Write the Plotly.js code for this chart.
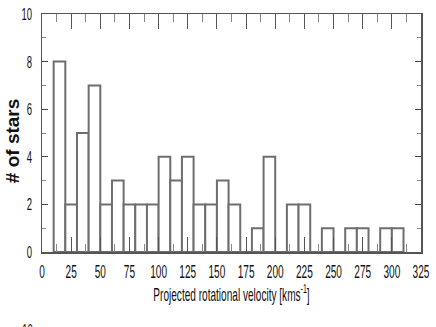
<!DOCTYPE html>
<html>
<head>
<meta charset="utf-8">
<script src="https://cdn.plot.ly/plotly-3.0.1.min.js"></script>
<style>html,body{margin:0;padding:0;background:#fff;}#chart{width:436px;height:327px;}</style>
</head>
<body>
<div id="chart"></div>
<script>
// Bin edges (left) of width 10 km/s and counts per bin
const binStarts = [10,20,30,40,50,60,70,80,90,100,110,120,130,140,150,160,170,180,190,200,210,220,230,240,250,260,270,280,290,300];
const counts    = [ 8, 2, 5, 7, 2, 3, 2, 2, 2,  4,  3,  4,  2,  2,  3,  2,  0,  1,  4,  0,  2,  2,  0,  1,  0,  1,  1,  0,  1,  1];
const binWidth = 10;
const xTicks = [0,25,50,75,100,125,150,175,200,225,250,275,300,325];
const yTicks = [0,2,4,6,8,10];

const xs = binStarts.map(b => b + binWidth / 2);

const font = "Liberation Sans, Arial, sans-serif";
const NARROW = 0.56;

const trace = {
  type: 'bar',
  x: xs,
  y: counts,
  width: binStarts.map(() => binWidth),
  marker: {color: '#ffffff', line: {color: '#6e6e6e', width: 2}},
  hoverinfo: 'skip'
};

const layout = {
  width: 436, height: 327,
  margin: {l: 42, r: 15, t: 14, b: 75},
  paper_bgcolor: '#fff', plot_bgcolor: '#fff',
  showlegend: false,
  bargap: 0,
  xaxis: {
    range: [0, 325],
    tickmode: 'array', tickvals: xTicks, ticktext: xTicks.map(String),
    tickangle: 0,
    ticklabeloverflow: 'allow',
    ticks: 'inside', ticklen: 15, tickcolor: '#555', tickwidth: 1,
    minor: {dtick: 12.5, tick0: 0, ticks: 'inside', ticklen: 8, tickcolor: '#888', tickwidth: 1},
    showline: true, linecolor: '#555', linewidth: 1.5, mirror: 'ticks',
    showgrid: false, zeroline: false,
    tickfont: {family: font, size: 18, color: '#111'},
    ticklabelstandoff: 3,
    title: {text: 'Projected rotational velocity [kms<sup>-1</sup>]', font: {family: font, size: 18, color: '#111'}, standoff: 4}
  },
  yaxis: {
    range: [0, 10],
    tickmode: 'array', tickvals: yTicks, ticktext: yTicks.map(String),
    ticklabeloverflow: 'allow',
    ticks: 'inside', ticklen: 6, tickcolor: '#444', tickwidth: 1,
    minor: {dtick: 1, ticks: 'inside', ticklen: 4, tickcolor: '#888', tickwidth: 1},
    showline: true, linecolor: '#555', linewidth: 1.5, mirror: 'ticks',
    showgrid: false, zeroline: false,
    tickfont: {family: font, size: 17, color: '#111'},
    ticklabelstandoff: 5
  },
  annotations: [
    {text: '# of stars', xref: 'paper', yref: 'paper', x: -0.079, y: 0.466, textangle: -90,
     xanchor: 'center', yanchor: 'middle', showarrow: false,
     font: {family: font, size: 19, color: '#111', weight: 'bold'}},
    {text: '10', xref: 'paper', yref: 'paper', x: -0.038, y: -0.28, xanchor: 'center', yanchor: 'top', showarrow: false,
     font: {family: font, size: 17, color: '#111'}}
  ]
};

function narrow(el, s) {
  const ax = parseFloat(el.getAttribute('x')) || 0;
  const t = el.getAttribute('transform') || '';
  el.setAttribute('transform', t + ' translate(' + ax + ',0) scale(' + s + ',1) translate(' + (-ax) + ',0)');
}

Plotly.newPlot('chart', [trace], layout, {displayModeBar: false, staticPlot: true}).then(gd => {
  gd.querySelectorAll('.xtick text, .ytick text, text.xtitle').forEach(el => narrow(el, NARROW));
  gd.querySelectorAll('text.annotation-text').forEach(el => {
    if (el.textContent === '10') narrow(el, NARROW);
  });
});
</script>
</body>
</html>
